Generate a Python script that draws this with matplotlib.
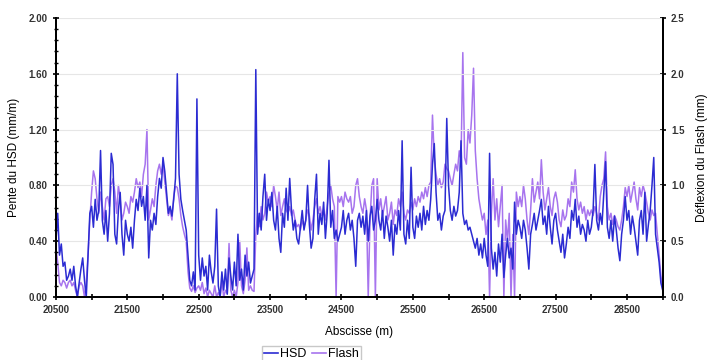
import numpy as np
import matplotlib
matplotlib.use("Agg")
import matplotlib.pyplot as plt
from matplotlib.ticker import FixedLocator, MultipleLocator, FormatStrFormatter
from matplotlib.lines import Line2D

plt.rcParams['font.family'] = ['Liberation Sans', 'DejaVu Sans']

# abscissa, one reading every 25 m
abscisse = np.arange(20500, 29001, 25)

# slope of HSD (mm/m), 20 values per 500 m
hsd = [
    # 20500
    0.40, 0.60, 0.30, 0.38, 0.22, 0.25, 0.12, 0.15, 0.20, 0.12,
    0.22, 0.08, 0.00, 0.10, 0.20, 0.28, 0.12, 0.00, 0.30, 0.60,
    # 21000
    0.65, 0.50, 0.70, 0.55, 0.62, 1.05, 0.55, 0.45, 0.62, 0.40,
    0.60, 1.03, 0.95, 0.45, 0.38, 0.62, 0.75, 0.45, 0.30, 0.55,
    # 21500
    0.45, 0.40, 0.50, 0.35, 0.55, 0.70, 0.62, 0.78, 0.65, 0.72,
    0.55, 0.80, 0.28, 0.55, 0.48, 0.60, 0.52, 0.72, 0.85, 0.78,
    # 22000
    1.00, 0.90, 0.75, 0.60, 0.65, 0.58, 0.70, 0.85, 1.60, 0.88,
    0.70, 0.62, 0.55, 0.48, 0.30, 0.12, 0.08, 0.18, 0.05, 1.42,
    # 22500
    0.30, 0.12, 0.28, 0.15, 0.22, 0.05, 0.30, 0.18, 0.10, 0.22,
    0.63, 0.08, 0.00, 0.18, 0.05, 0.20, 0.02, 0.28, 0.15, 0.05,
    # 23000
    0.25, 0.08, 0.45, 0.12, 0.20, 0.05, 0.30, 0.15, 0.25, 0.10,
    0.15, 0.20, 1.63, 0.45, 0.60, 0.48, 0.72, 0.88, 0.55, 0.70,
    # 23500
    0.62, 0.75, 0.55, 0.48, 0.65, 0.42, 0.32, 0.60, 0.50, 0.78,
    0.55, 0.85, 0.62, 0.48, 0.55, 0.42, 0.38, 0.50, 0.62, 0.48,
    # 24000
    0.55, 0.80, 0.52, 0.35, 0.42, 0.70, 0.88, 0.45, 0.60, 0.52,
    0.68, 0.42, 0.60, 0.98, 0.50, 0.62, 0.42, 0.48, 0.40, 0.45,
    # 24500
    0.50, 0.62, 0.45, 0.55, 0.60, 0.48, 0.55, 0.42, 0.22, 0.55,
    0.60, 0.50, 0.58, 0.45, 0.62, 0.40, 0.58, 0.65, 0.48, 0.55,
    # 25000
    0.70, 0.55, 0.48, 0.62, 0.42, 0.58, 0.50, 0.40, 0.55, 0.30,
    0.52, 0.45, 0.62, 0.48, 1.12, 0.45, 0.38, 0.55, 0.42, 0.93,
    # 25500
    0.50, 0.42, 0.58, 0.50, 0.60, 0.48, 0.65, 0.52, 0.62, 0.55,
    0.70, 0.95, 1.10, 0.75, 0.55, 0.60, 0.48, 0.58, 0.62, 1.28,
    # 26000
    0.80, 0.62, 0.55, 0.65, 0.58, 0.62, 0.75, 1.12, 0.60, 0.52,
    0.55, 0.48, 0.50, 0.45, 0.40, 0.35, 0.42, 0.30, 0.38, 0.28,
    # 26500
    0.42, 0.30, 0.22, 1.03, 0.35, 0.20, 0.32, 0.15, 0.38, 0.25,
    0.45, 0.14, 0.30, 0.42, 0.28, 0.35, 0.20, 0.68, 0.45, 0.55,
    # 27000
    0.50, 0.42, 0.55, 0.48, 0.35, 0.20, 0.45, 0.52, 0.60, 0.48,
    0.55, 0.62, 0.70, 0.52, 0.58, 0.45, 0.65, 0.50, 0.38, 0.55,
    # 27500
    0.60, 0.48, 0.40, 0.32, 0.45, 0.28, 0.38, 0.50, 0.42, 0.62,
    0.55, 0.70, 0.50, 0.58, 0.45, 0.52, 0.48, 0.40, 0.55, 0.45,
    # 28000
    0.50, 0.62, 0.95, 0.55, 0.48, 0.60, 0.52, 0.75, 0.97, 0.50,
    0.42, 0.55, 0.40, 0.58, 0.48, 0.35, 0.26, 0.45, 0.55, 0.72,
    # 28500
    0.55, 0.62, 0.45, 0.58, 0.50, 0.40, 0.30, 0.55, 0.62, 0.45,
    0.75, 0.40, 0.52, 0.62, 0.80, 1.00, 0.45, 0.35, 0.25, 0.10,
    0.05,
]

# Flash deflection (mm)
flash = [
    # 20500
    0.44, 0.31, 0.13, 0.10, 0.15, 0.13, 0.08, 0.13, 0.15, 0.10,
    0.13, 0.06, 0.00, 0.10, 0.13, 0.10, 0.00, 0.13, 0.38, 0.69,
    # 21000
    0.94, 1.13, 1.06, 0.88, 0.75, 0.94, 0.81, 0.69, 0.88, 0.90,
    0.81, 1.00, 1.06, 0.94, 0.75, 1.00, 0.88, 0.69, 0.75, 0.85,
    # 21500
    0.81, 0.75, 0.90, 0.85, 0.94, 1.06, 0.98, 1.03, 0.90, 1.10,
    1.19, 1.50, 0.69, 0.78, 0.88, 0.81, 1.00, 1.13, 1.19, 1.10,
    # 22000
    1.19, 1.03, 0.88, 0.73, 0.78, 0.69, 0.90, 1.00, 0.98, 0.88,
    0.73, 0.63, 0.56, 0.50, 0.23, 0.08, 0.05, 0.10, 0.04, 0.08,
    # 22500
    0.10, 0.06, 0.13, 0.03, 0.08, 0.00, 0.06, 0.03, 0.00, 0.10,
    0.00, 0.04, 0.00, 0.15, 0.00, 0.06, 0.03, 0.48, 0.06, 0.00,
    # 23000
    0.06, 0.00, 0.13, 0.50, 0.10, 0.03, 0.15, 0.44, 0.06, 0.10,
    0.06, 0.05, 0.56, 0.75, 0.63, 0.81, 0.69, 0.75, 0.94, 0.85,
    # 23500
    0.90, 0.81, 1.00, 0.90, 0.78, 0.94, 0.73, 0.81, 0.88, 0.78,
    0.75, 0.81, 0.73, 0.78, 0.69, 0.63, 0.65, 0.60, 0.69, 0.63,
    # 24000
    0.69, 0.78, 0.73, 0.60, 0.69, 0.81, 0.88, 0.75, 0.81, 0.73,
    0.78, 0.69, 0.81, 0.94, 1.00, 0.88, 0.81, 0.00, 0.90, 0.85,
    # 24500
    0.90, 0.81, 0.94, 0.88, 0.85, 0.90, 0.75, 0.81, 1.00, 1.06,
    0.90, 0.81, 0.75, 0.88, 0.78, 0.00, 0.69, 1.00, 1.06, 0.00,
    # 25000
    1.06, 0.78, 0.88, 0.73, 0.81, 0.90, 0.69, 0.75, 0.85, 0.65,
    0.78, 0.73, 0.88, 0.81, 0.94, 0.75, 0.69, 0.78, 0.75, 0.85,
    # 25500
    0.78, 0.88, 0.81, 0.90, 0.85, 0.94, 0.88, 0.98, 0.90, 1.00,
    1.03, 1.63, 1.25, 1.10, 1.00, 1.06, 0.98, 1.03, 1.19, 1.15,
    # 26000
    1.13, 1.06, 1.00, 1.10, 1.19, 1.13, 1.31, 1.23, 2.19, 1.25,
    1.19, 1.50, 1.38, 1.63, 2.05, 1.31, 1.06, 0.88, 0.78, 0.69,
    # 26500
    0.75, 0.56, 0.69, 0.00, 0.75, 1.06, 0.69, 0.88, 0.63, 0.81,
    1.00, 0.00, 0.69, 0.50, 0.75, 0.00, 0.56, 0.00, 0.94, 0.81,
    # 27000
    0.90, 0.81, 1.00, 0.88, 0.69, 0.56, 0.78, 1.06, 0.85, 0.94,
    1.03, 0.88, 1.23, 0.94, 0.78, 0.88, 0.98, 0.81, 0.73, 0.88,
    # 27500
    0.94, 0.85, 0.69, 0.63, 0.78, 0.69, 0.73, 0.88, 0.81, 1.03,
    0.94, 1.14, 0.88, 0.78, 0.85, 0.75, 0.81, 0.69, 0.78, 0.73,
    # 28000
    0.78, 0.73, 0.81, 0.75, 0.69, 0.90, 1.00, 1.06, 1.30, 0.81,
    0.69, 0.75, 0.65, 0.73, 0.69, 0.63, 0.60, 0.69, 0.81, 0.98,
    # 28500
    0.90, 1.00, 0.85, 0.94, 1.03, 0.88, 0.78, 0.98, 0.90, 1.00,
    0.94, 0.85, 0.75, 0.69, 0.78, 0.73, 0.75, 0.56, 0.38, 0.19,
    0.06,
]

x_labels = [20500, 21500, 22500, 23500, 24500, 25500, 26500, 27500, 28500]
x_minor = [21000, 22000, 23000, 24000, 25000, 26000, 27000, 28000, 29000]

hsd_color = '#2b2bd2'
flash_color = '#a774ee'

fig = plt.figure(figsize=(7.08, 3.6), dpi=100)
ax = fig.add_axes([0.079, 0.175, 0.857, 0.775])
ax2 = ax.twinx()

ax2.plot(abscisse, flash, color=flash_color, lw=1.1)
ax.plot(abscisse, hsd, color=hsd_color, lw=1.1)
# keep HSD above Flash
ax.set_zorder(ax2.get_zorder() + 1)
ax.patch.set_visible(False)

ax.set_xlim(20500, 29000)
ax.set_ylim(0, 2.0)
ax2.set_ylim(0, 2.5)

ax.xaxis.set_major_locator(FixedLocator(x_labels))
ax.xaxis.set_minor_locator(FixedLocator(x_minor))
ax.yaxis.set_major_locator(MultipleLocator(0.4))
ax.yaxis.set_minor_locator(MultipleLocator(0.08))
ax.yaxis.set_major_formatter(FormatStrFormatter('%.2f'))
ax2.yaxis.set_major_locator(MultipleLocator(0.5))
ax2.yaxis.set_major_formatter(FormatStrFormatter('%.1f'))

ax.grid(axis='y', color='#e6e6e6', lw=0.8)
ax.set_axisbelow(True)

for a in (ax, ax2):
    for s in a.spines.values():
        s.set_linewidth(1.4)
    a.spines['top'].set_visible(False)

ax.tick_params(axis='both', which='major', direction='inout', length=5, width=1.2,
               labelsize=7, colors='black')
ax.tick_params(axis='both', which='minor', direction='inout', length=3.5, width=1.0)
ax.tick_params(axis='x', which='minor', length=5, width=1.2)
ax2.tick_params(axis='y', which='major', direction='inout', length=5, width=1.2,
                labelsize=7)
for lab in ax.get_xticklabels() + ax.get_yticklabels() + ax2.get_yticklabels():
    lab.set_fontweight('bold')
    lab.set_color('#333333')

ax.set_xlabel('Abscisse (m)', fontsize=8.5, labelpad=8)
ax.set_ylabel('Pente du HSD (mm/m)', fontsize=8.5, labelpad=6)
ax2.set_ylabel('Déflexion du Flash (mm)', fontsize=8.5, labelpad=8)

handles = [Line2D([], [], color=hsd_color, lw=1.2),
           Line2D([], [], color=flash_color, lw=1.2)]
fig.legend(handles, ['HSD', 'Flash'], loc='lower center', bbox_to_anchor=(0.44, -0.025),
           ncol=2, fontsize=9, frameon=True, fancybox=False, edgecolor='#bbbbbb',
           handlelength=1.1, handletextpad=0.2, columnspacing=0.4, borderpad=0.2)

fig.savefig('out.png', dpi=100)
